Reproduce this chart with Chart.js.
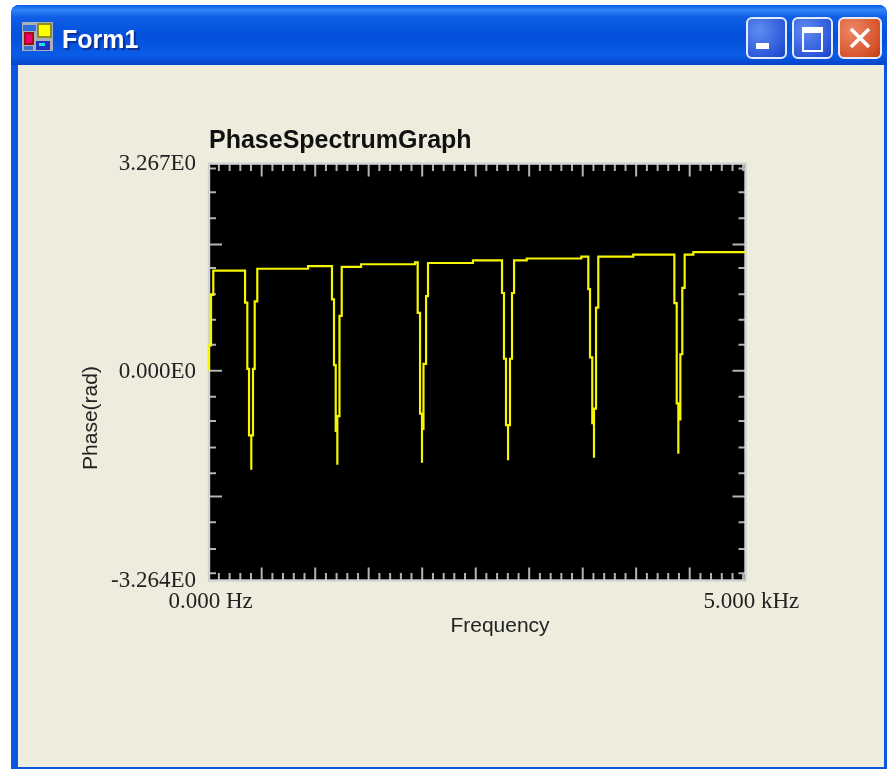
<!DOCTYPE html>
<html>
<head>
<meta charset="utf-8">
<title>Form1</title>
<script src="https://cdn.jsdelivr.net/npm/chart.js@4"></script>
<style>
html, body { margin: 0; padding: 0; background: #fff; overflow: hidden; }
#win { position: absolute; left: 11px; top: 5px; width: 876px; height: 764px; background: #0a56e0; border-radius: 8px 8px 0 0; }
#bar { position: absolute; left: 0; top: 0; width: 100%; height: 60px; border-radius: 8px 8px 0 0;
  background: linear-gradient(to bottom, #0a5ae6 0, #2f86f5 5px, #0f5ee6 12px, #0450da 32px, #0a5ce6 50px, #0344c8 60px); }
#client { position: absolute; left: 7px; top: 60px; width: 866px; height: 702px; background: #edecdd; }
#cap { position: absolute; left: 51px; top: 19px; font: bold 25px/30px "Liberation Sans", sans-serif; color: #fff; text-shadow: 2px 2px 1px #0a2f96; }
.btn { position: absolute; top: 12px; height: 38px; border: 2px solid #e4ecfa; border-radius: 6px; background: radial-gradient(circle at 30% 30%, #5f8cf0, #2a55d8 75%, #1c3fb8); }
#bmin { left: 735px; width: 37px; }
#bmax { left: 781px; width: 37px; }
#bclose { left: 827px; width: 40px; background: radial-gradient(circle at 30% 30%, #ec8866, #d8542c 70%, #bc3a12); }
#bmin i { position: absolute; left: 8px; top: 24px; width: 13px; height: 6px; background: #fff; }
#bmax i { position: absolute; left: 8px; top: 8px; width: 17px; height: 17px; border: 2px solid #fff; border-top-width: 6px; }
#bclose svg { position: absolute; left: 9px; top: 9px; }
#icon { position: absolute; left: 11px; top: 17px; width: 31px; height: 29px; background: #aab0b8; }
#icon b { position: absolute; display: block; }
#chartCanvas { position: absolute; left: 0; top: 0; }
#win, #chartCanvas { filter: blur(0.45px); }
</style>
</head>
<body>
<div id="win">
  <div id="bar">
    <div id="icon">
      <b style="left:1px;top:3px;width:13px;height:6px;background:#2f6fe0"></b>
      <b style="left:15px;top:1px;width:15px;height:15px;background:#ffff00;border:2px solid #8c8c20;box-sizing:border-box"></b>
      <b style="left:2px;top:10px;width:10px;height:13px;background:#f0006e;border:2px solid #a01010;box-sizing:border-box"></b>
      <b style="left:14px;top:19px;width:14px;height:9px;background:#2030c0"></b>
      <b style="left:17px;top:21px;width:6px;height:3px;background:#20e0f0"></b>
      <b style="left:2px;top:24px;width:9px;height:4px;background:#3a70d0"></b>
    </div>
    <div id="cap">Form1</div>
    <div class="btn" id="bmin"><i></i></div>
    <div class="btn" id="bmax"><i></i></div>
    <div class="btn" id="bclose"><svg width="22" height="20"><path d="M2 1 L20 19 M20 1 L2 19" stroke="#fff" stroke-width="3.5"/></svg></div>
  </div>
  <div id="client"></div>
</div>
<canvas id="chartCanvas" width="887" height="769"></canvas>
<script>
// values, stepped trace
const freqHz = [0, 0, 19, 40, 336, 357, 373, 394, 394, 410, 426, 450, 923, 1146, 1165, 1181, 1196, 1196, 1216, 1237,
    1417, 1920, 1945, 1967, 1985, 1985, 1999, 2023, 2041, 2460, 2731, 2749, 2768, 2787, 2787, 2805, 2824, 2843, 2961,
    3470, 3535, 3551, 3572, 3588, 3588, 3607, 3628, 3954, 4337, 4359, 4374, 4374, 4393, 4411, 4433, 4514, 5000];
const phaseRad = [0.02, 0.42, 1.21, 1.59, 1.09, 0.05, -0.99, -1.53, -0.99, 0.05, 1.11, 1.62, 1.66, 1.14, 0.11, -0.92, -1.45, -0.69, 0.88, 1.65,
    1.69, 1.72, 0.93, -0.65, -1.42, -0.89, 0.13, 1.19, 1.71, 1.75, 1.24, 0.21, -0.83, -1.38, -0.83, 0.21, 1.24, 1.75, 1.78,
    1.81, 1.30, 0.23, -0.80, -1.34, -0.57, 1.01, 1.81, 1.84, 1.08, -0.49, -1.28, -0.74, 0.28, 1.32, 1.84, 1.88, 1.88];

// the kHz label hangs a little past the end of the axis in the original
const xLabelValues = [15, 5055];
const xLabels = ['0.000 Hz', '5.000 kHz'];
const yLabelValues = [-3.264, 0, 3.267];
const yLabels = ['-3.264E0', '0.000E0', '3.267E0'];

const xMajor = [491, 990, 1488, 1987, 2486, 2984, 3483, 3981, 4480];
const xMinor = [92, 192, 292, 391, 591, 690, 790, 890, 1090, 1189, 1289, 1389, 1588, 1688, 1788, 1887, 2087, 2187, 2286, 2386,
    2585, 2685, 2785, 2885, 3084, 3184, 3284, 3383, 3583, 3683, 3782, 3882, 4081, 4181, 4280, 4380, 4580, 4679, 4779, 4879, 4978];
const yMajor = [2.00, 0.02, -1.95];
const yMinor = [3.19, 2.82, 2.41, 1.63, 1.22, 0.82, 0.43, -0.385, -0.766, -1.18, -1.585, -2.35, -2.77, -3.15];

const serifFont = { family: '"Liberation Serif", serif', size: 23 };

const scopePlot = {
    id: 'scopePlot',
    beforeDatasetsDraw(chart) {
        const { ctx, chartArea: a, scales: { x, y } } = chart;
        ctx.save();
        ctx.fillStyle = '#000';
        ctx.fillRect(a.left, a.top, a.width, a.height);
        ctx.strokeStyle = '#b4b4b4';
        ctx.lineWidth = 2;
        const tickX = (v, len) => {
            const p = x.getPixelForValue(v);
            ctx.beginPath();
            ctx.moveTo(p, a.top); ctx.lineTo(p, a.top + len);
            ctx.moveTo(p, a.bottom); ctx.lineTo(p, a.bottom - len);
            ctx.stroke();
        };
        const tickY = (v, len) => {
            const p = y.getPixelForValue(v);
            ctx.beginPath();
            ctx.moveTo(a.left, p); ctx.lineTo(a.left + len, p);
            ctx.moveTo(a.right, p); ctx.lineTo(a.right - len, p);
            ctx.stroke();
        };
        xMinor.forEach(v => tickX(v, 7.5));
        xMajor.forEach(v => tickX(v, 13));
        yMinor.forEach(v => tickY(v, 7));
        yMajor.forEach(v => tickY(v, 13));
        ctx.strokeStyle = '#d2d2d2';
        ctx.lineWidth = 2.4;
        ctx.strokeRect(a.left, a.top, a.width, a.height);
        ctx.restore();
    },
    afterDraw(chart) {
        const { ctx } = chart;
        ctx.save();
        ctx.fillStyle = '#222';
        ctx.font = '21px "Liberation Sans", sans-serif';
        ctx.textAlign = 'center';
        ctx.textBaseline = 'middle';
        ctx.fillText('Frequency', 500, 626);
        ctx.translate(91, 418);
        ctx.rotate(-Math.PI / 2);
        ctx.fillText('Phase(rad)', 0, 0);
        ctx.restore();
    }
};

const ctx = document.getElementById('chartCanvas').getContext('2d');

const myChart = new Chart(ctx, {
    type: 'line',
    data: {
        datasets: [{
            data: freqHz.map((f, i) => ({ x: f, y: phaseRad[i] })),
            borderColor: '#f6f600',
            borderWidth: 2.2,
            pointRadius: 0,
            stepped: 'before',
            clip: false,
        }],
    },
    options: {
        responsive: false,
        animation: false,
        layout: { padding: { left: 0, top: 128.1, right: 141.5, bottom: 0 } },
        scales: {
            x: {
                type: 'linear',
                min: 0,
                max: 5000,
                grid: { display: false },
                border: { display: false },
                afterBuildTicks: (axis) => { axis.ticks = xLabelValues.map(value => ({ value })); },
                afterFit: (axis) => { axis.height = 188.5; },
                ticks: {
                    autoSkip: false,
                    maxRotation: 0,
                    padding: 0,
                    color: '#222',
                    font: serifFont,
                    callback: (value, index) => xLabels[index],
                },
            },
            y: {
                min: -3.264,
                max: 3.267,
                grid: { display: false },
                border: { display: false },
                afterBuildTicks: (axis) => { axis.ticks = yLabelValues.map(value => ({ value })); },
                afterFit: (axis) => { axis.width = 209; },
                ticks: {
                    autoSkip: false,
                    padding: 5,
                    color: '#222',
                    font: serifFont,
                    callback: (value, index) => yLabels[index],
                },
            },
        },
        plugins: {
            legend: { display: false },
            tooltip: { enabled: false },
            title: {
                display: true,
                text: 'PhaseSpectrumGraph',
                align: 'start',
                fullSize: false,
                color: '#111',
                padding: { top: 0, bottom: 9 },
                font: { family: '"Liberation Sans", sans-serif', size: 25, weight: 'bold', lineHeight: 1.06 },
            },
        },
    },
    plugins: [scopePlot],
});
</script>
</body>
</html>
